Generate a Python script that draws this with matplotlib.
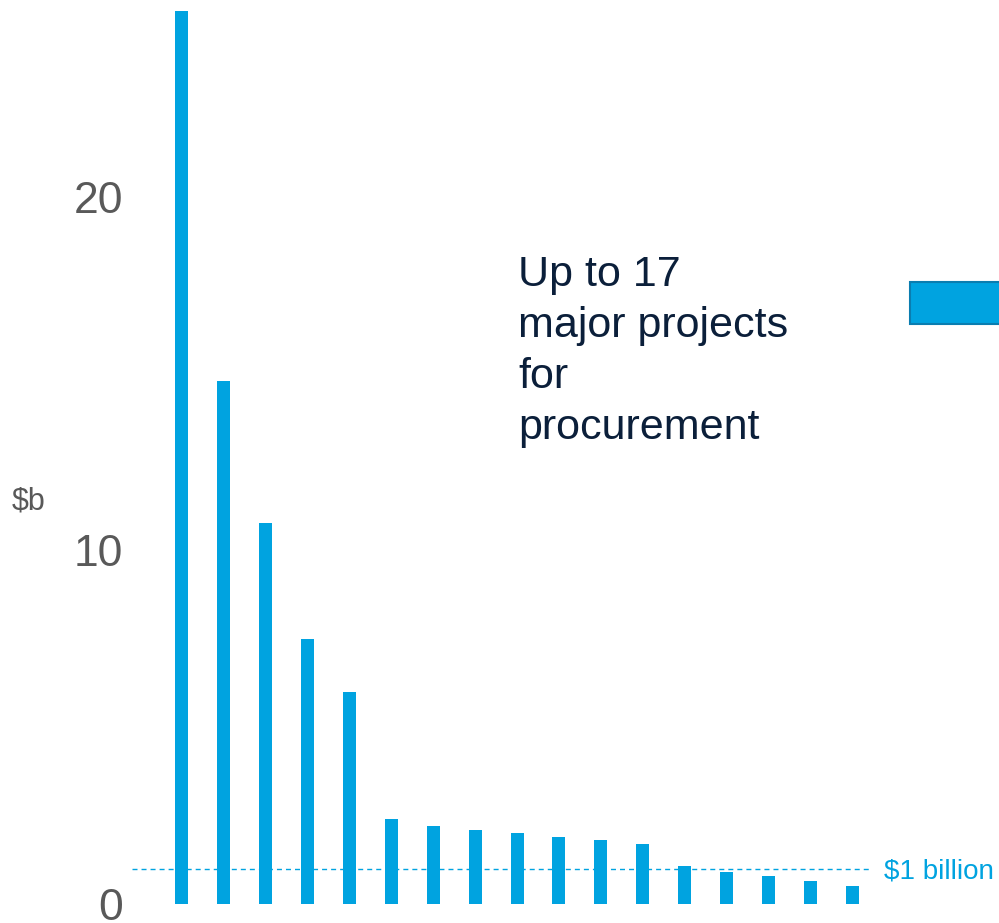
import matplotlib.pyplot as plt
from matplotlib.patches import Rectangle
import matplotlib.transforms as mtransforms

# project values, $b (largest first)
projects = list(range(1, 18))
values = [25.26, 14.79, 10.78, 7.49, 5.99, 2.40, 2.21, 2.09, 2.00,
          1.89, 1.80, 1.70, 1.08, 0.90, 0.80, 0.65, 0.50]
threshold = 1.0
yticks = [0, 10, 20]

blue = '#00a3e0'
grey = '#595959'
navy = '#0b1f3a'

plt.rcParams['font.family'] = ['Liberation Sans', 'DejaVu Sans']

fig = plt.figure(figsize=(9.99, 9.23), dpi=100)
ax = fig.add_axes([0.1321, 0.02058, 0.7407, 0.9794])

pos = [p - 1 for p in projects]
ax.bar(pos, values, width=0.31, color=blue, zorder=2)

# $1 billion reference line
ax.axhline(threshold, color=blue, lw=1.0, linestyle=(0, (3.6, 2.9)), zorder=1)
trans = mtransforms.blended_transform_factory(ax.transAxes, ax.transData)
ax.annotate('$1 billion', xy=(1, threshold), xycoords=trans,
            xytext=(8.6, -2), textcoords='offset points',
            ha='left', va='center', fontsize=20, color=blue)

ax.set_xlim(-1.193, 16.47)
ax.set_ylim(0, 25.57)
ax.set_yticks(yticks)
ax.set_yticklabels([str(t) for t in yticks])
ax.tick_params(axis='y', length=0, pad=6.5, labelsize=32, labelcolor=grey)
ax.set_xticks([])
for s in ax.spines.values():
    s.set_visible(False)

fig.text(12 / 999, 1 - 502 / 923, '$b', fontsize=22, color=grey,
         ha='left', va='center')

fig.text(518 / 999, 1 - 255 / 923,
         'Up to 17\nmajor projects\nfor\nprocurement',
         fontsize=31, color=navy, ha='left', va='top', linespacing=1.36)

# partially visible swatch at the right edge
fig.patches.append(Rectangle((910 / 999, 1 - 324 / 923), 100 / 999, 42 / 923,
                             transform=fig.transFigure, facecolor=blue,
                             edgecolor='#0a7db0', lw=1.5, clip_on=False))

plt.savefig('out.png', dpi=100)
